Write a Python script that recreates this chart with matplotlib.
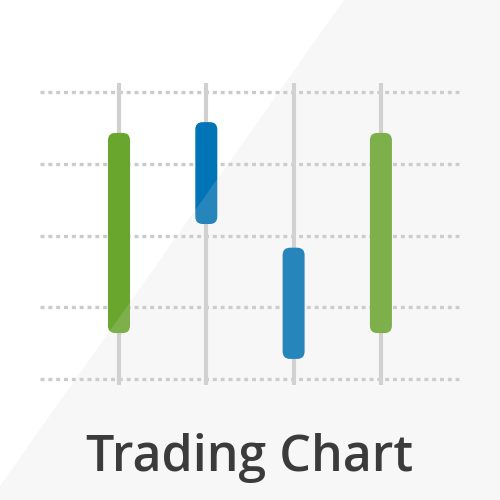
import matplotlib
matplotlib.use("Agg")
import matplotlib.pyplot as plt
from matplotlib.patches import FancyBboxPatch, Polygon

# candle data (price units, grid rows at 0..4)
candles = [0, 1, 2, 3]
highs = [4.13, 4.13, 4.13, 4.13]
lows = [-0.08, -0.08, -0.08, -0.08]
tops = [3.43, 3.58, 1.83, 3.43]
bottoms = [0.64, 2.16, 0.28, 0.64]
colors = ["#69a62d", "#0074b7", "#0074b7", "#69a62d"]
grid_levels = [0, 1, 2, 3, 4]
title = "Trading Chart"

fig = plt.figure(figsize=(5, 5), dpi=100)
ax = fig.add_axes([0, 0, 1, 1])
ax.set_xlim(-1.363, 4.364)
ax.set_ylim(-1.686, 5.282)
ax.axis("off")

# dotted price levels
ax.hlines(grid_levels, -0.905, 3.9, colors="#cbcbcb", linewidth=2.4,
          linestyles=(0, (1.2, 1.15)), zorder=1)

# wicks
ax.vlines(candles, lows, highs, colors="#d0d0d0", linewidth=3.0, zorder=2)

# bodies
w = 0.252
aspect = 87.3 / 71.75
for x, t, b, c in zip(candles, tops, bottoms, colors):
    box = FancyBboxPatch((x - w / 2, b), w, t - b,
                         boxstyle="round,pad=0,rounding_size=0.085",
                         mutation_aspect=aspect,
                         facecolor=c, edgecolor="none", zorder=3)
    ax.add_patch(box)

# light diagonal overlay
ax.add_patch(Polygon([(0.688, 1), (1, 1), (1, 0), (-0.02, 0)],
                     closed=True, transform=ax.transAxes,
                     facecolor="#d8d8d8", alpha=0.18, edgecolor="none", zorder=4))

fig.text(0.5, 1 - 458 / 500, title, ha="center", va="center",
         fontsize=36, color="#3b3b3b", family="Open Sans", weight="semibold",
         zorder=5)

fig.savefig("out.png", dpi=100, facecolor="white")
